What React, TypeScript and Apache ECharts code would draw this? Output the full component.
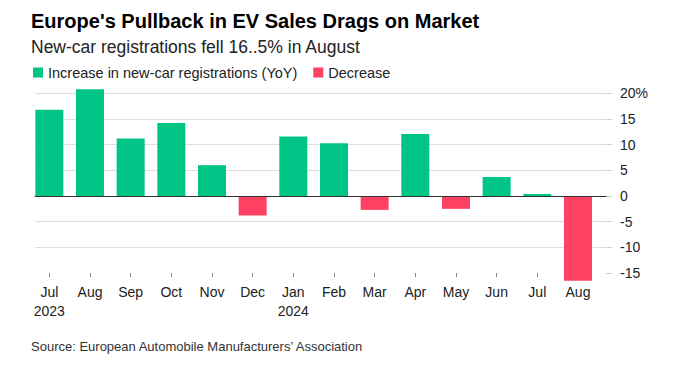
import React, { useEffect, useRef } from "react";
import * as echarts from "echarts";

const months = ["Jul\n2023", "Aug", "Sep", "Oct", "Nov", "Dec", "Jan\n2024", "Feb", "Mar", "Apr", "May", "Jun", "Jul", "Aug"];
const yoyChange = [16.8, 20.8, 11.2, 14.2, 6.0, -3.8, 11.6, 10.3, -2.7, 12.1, -2.5, 3.7, 0.4, -16.5];
const seriesNames = ["Increase in new-car registrations (YoY)", "Decrease"];
const yTicks = [-15, -10, -5, 0, 5, 10, 15, 20];

const GREEN = "#00c587";
const RED = "#ff4163";
const FONT = "'Liberation Sans', Arial, sans-serif";

export default function App() {
  const ref = useRef<HTMLDivElement>(null);
  useEffect(() => {
    if (!ref.current) return;
    const chart = echarts.init(ref.current, null, { renderer: "svg" });
    const inc = yoyChange.map((v) => (v >= 0 ? v : "-"));
    const dec = yoyChange.map((v) => (v < 0 ? v : "-"));
    const yMin = yTicks[0];
    const yMax = yTicks[yTicks.length - 1];
    chart.setOption({
      animation: false,
      textStyle: { fontFamily: FONT },
      graphic: [
        {
          type: "text",
          left: 31,
          top: 10.5,
          style: { text: "Europe's Pullback in EV Sales Drags on Market", font: `bold 20px ${FONT}`, fill: "#000" },
        },
        {
          type: "text",
          left: 31,
          top: 38,
          style: { text: "New-car registrations fell 16..5% in August", font: `17.5px ${FONT}`, fill: "#222" },
        },
        {
          type: "text",
          left: 31,
          top: 340,
          style: { text: "Source: European Automobile Manufacturers\u2019 Association", font: `13px ${FONT}`, fill: "#333" },
        },
      ],
      legend: {
        left: 28,
        top: 60,
        itemWidth: 10,
        itemHeight: 10,
        itemGap: 16,
        icon: "rect",
        textStyle: { fontSize: 14.5, color: "#222", fontFamily: FONT },
        data: seriesNames,
      },
      grid: [
        { left: 29, right: 86.7, top: 88.2, bottom: 101 },
        { left: 35, right: 79, top: 93.3, bottom: 101 },
      ],
      xAxis: [
        {
          type: "category",
          gridIndex: 0,
          data: months,
          axisLine: { show: true, onZero: false, lineStyle: { color: "#888", opacity: 0 } },
          axisTick: { show: true, length: 4, alignWithLabel: true, lineStyle: { color: "#888", width: 1, opacity: 1 } },
          axisLabel: { margin: 10, fontSize: 14, color: "#222", lineHeight: 18.5, fontFamily: FONT },
          splitLine: { show: false },
        },
        {
          type: "value",
          gridIndex: 1,
          min: 0,
          max: 1,
          z: 5,
          axisLine: { show: true, onZero: true, lineStyle: { color: "#333", width: 1 } },
          axisTick: { show: false },
          axisLabel: { show: false },
          splitLine: { show: false },
        },
      ],
      yAxis: [
        {
          type: "value",
          gridIndex: 0,
          min: yMin,
          max: 21,
          show: false,
          splitLine: { show: false },
        },
        {
          type: "value",
          gridIndex: 1,
          position: "right",
          min: yMin,
          max: yMax,
          interval: 5,
          axisLine: { show: true, onZero: false, lineStyle: { color: "#ccc", opacity: 0 } },
          axisTick: { show: true, length: 6, lineStyle: { color: "#d0d0d0", width: 1, opacity: 1 } },
          axisLabel: {
            margin: 14,
            fontSize: 14,
            color: "#222",
            fontFamily: FONT,
            formatter: (v: number) => (v === yMax ? `${v}%` : `${v}`),
          },
          splitLine: { show: true, showMinLine: false, lineStyle: { color: "#ddd", width: 1 } },
        },
      ],
      series: [
        {
          name: seriesNames[0],
          type: "bar",
          xAxisIndex: 0,
          yAxisIndex: 0,
          stack: "v",
          barWidth: 28,
          clip: false,
          itemStyle: { color: GREEN },
          data: inc,
        },
        {
          name: seriesNames[1],
          type: "bar",
          xAxisIndex: 0,
          yAxisIndex: 0,
          stack: "v",
          barWidth: 28,
          clip: false,
          itemStyle: { color: RED },
          data: dec,
        },
      ],
    });
    return () => chart.dispose();
  }, []);
  return <div ref={ref} style={{ position: "fixed", left: 0, top: 0, width: 685, height: 374, background: "#fff" }} />;
}
